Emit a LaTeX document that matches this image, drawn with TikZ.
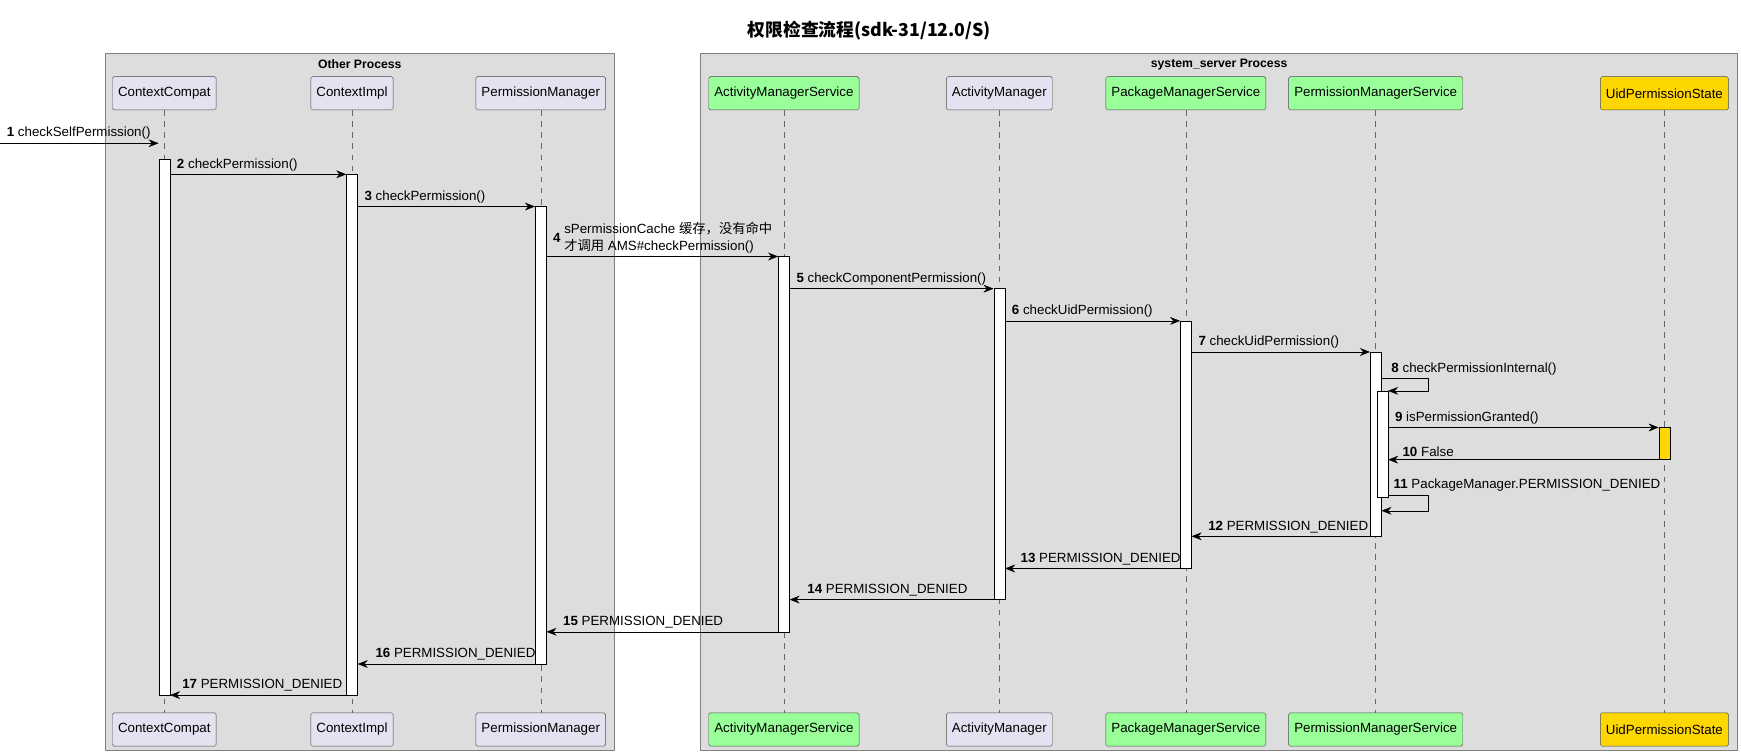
\documentclass[tikz,border=0pt]{standalone}
\usepackage{fontspec}
\setmainfont{Liberation Sans}
\newfontfamily\cjk{Noto Sans CJK SC}
\usetikzlibrary{arrows.meta}
\definecolor{grpfill}{RGB}{221,221,221}
\definecolor{grpline}{RGB}{128,128,128}
\definecolor{partfill}{RGB}{226,226,240}
\definecolor{greenfill}{RGB}{153,255,153}
\definecolor{goldfill}{RGB}{255,215,0}
\tikzset{
  part/.style={draw=black!70,rounded corners=1.5pt,minimum height=30pt,inner xsep=5pt,font=\fontsize{12}{14}\selectfont},
  actbar/.style={draw=black,fill=white,minimum width=10pt,inner sep=0pt},
  msg/.style={-{Stealth[length=9pt,width=7pt]},black},
  lbl/.style={anchor=south west,inner sep=0pt,font=\fontsize{12}{14}\selectfont},
  life/.style={dashed,black!60,dash pattern=on 5pt off 5pt}
}
\newcommand{\msgno}[1]{\textbf{#1}~}
\begin{document}
\begin{tikzpicture}[x=1pt,y=1pt,yscale=-1]
\useasboundingbox (0,0) rectangle (1568,680);
\fill[white] (0,0) rectangle (1568,680);

% title
\node (title) at (783,28) {\fontsize{16}{18}\selectfont\bfseries\cjk 权限检查流程(sdk-31/12.0/S)};

% groups
\draw[grpline,fill=grpfill] (95,48) rectangle (553,676);
\draw[grpline,fill=grpfill] (631,48) rectangle (1565,676);
\node[font=\fontsize{11}{13}\selectfont\bfseries] (grpA) at (324,58) {Other Process};
\node[font=\fontsize{11}{13}\selectfont\bfseries] (grpB) at (1098,58) {system\_server Process};

% participants
\foreach \n/\x/\c/\t in {cc/148/partfill/ContextCompat,ci/317/partfill/ContextImpl,pm/487/partfill/PermissionManager,
  ams/706/greenfill/ActivityManagerService,am/900/partfill/ActivityManager,pkms/1068/greenfill/PackageManagerService,
  pms/1239/greenfill/PermissionManagerService,ups/1499/goldfill/UidPermissionState}{
  \node[part,fill=\c] (\n top) at (\x,84) {\t};
  \node[part,fill=\c] (\n bot) at (\x,657) {\t};
  \draw[life] (\n top.south) -- (\n bot.north);
}

% activations
\node[actbar,minimum height=483pt] (acc) at (148,384.5) {};
\node[actbar,minimum height=469pt] (aci) at (317,391.5) {};
\node[actbar,minimum height=412pt] (apm) at (487,392) {};
\node[actbar,minimum height=338pt] (aams) at (706,400) {};
\node[actbar,minimum height=280pt] (aam) at (900,400) {};
\node[actbar,minimum height=223pt] (apkms) at (1068,400.5) {};
\node[actbar,minimum height=166pt] (apms) at (1239,400) {};
\node[actbar,minimum height=96pt] (apms2) at (1245,400) {};
\node[actbar,fill=goldfill,minimum height=29pt] (aups) at (1499,399.5) {};

% messages
\coordinate (start) at (0,129);
\draw[msg] (start) -- (acc.north west |- 0,129) node[lbl,pos=0,xshift=6pt,yshift=3pt] {\msgno{1}checkSelfPermission()};
\draw[msg] (acc.east |- 0,157) -- (aci.west |- 0,157) node[lbl,pos=0,xshift=6pt,yshift=3pt] {\msgno{2}checkPermission()};
\draw[msg] (aci.east |- 0,186) -- (apm.west |- 0,186) node[lbl,pos=0,xshift=6pt,yshift=3pt] {\msgno{3}checkPermission()};
\draw[msg] (apm.east |- 0,231) -- (aams.west |- 0,231);
\node[anchor=west,inner sep=0pt,font=\fontsize{12}{14}\selectfont\bfseries] (n4) at (498,214) {4};
\node[anchor=west,align=left,inner sep=0pt,font=\fontsize{12}{16}\selectfont] (l4) at (508,214) {sPermissionCache {\cjk 缓存，没有命中}\\{\cjk 才调用} AMS\#checkPermission()};
\draw[msg] (aams.east |- 0,260) -- (aam.west |- 0,260) node[lbl,pos=0,xshift=6pt,yshift=3pt] {\msgno{5}checkComponentPermission()};
\draw[msg] (aam.east |- 0,289) -- (apkms.west |- 0,289) node[lbl,pos=0,xshift=6pt,yshift=3pt] {\msgno{6}checkUidPermission()};
\draw[msg] (apkms.east |- 0,317) -- (apms.west |- 0,317) node[lbl,pos=0,xshift=6pt,yshift=3pt] {\msgno{7}checkUidPermission()};
\draw[msg] (apms.east |- 0,341) -- (1286,341) -- (1286,352) -- (apms2.east |- 0,352);
\node[lbl] (l8) at (1253,338) {\msgno{8}checkPermissionInternal()};
\draw[msg] (apms2.east |- 0,385) -- (aups.west |- 0,385) node[lbl,pos=0,xshift=6pt,yshift=3pt] {\msgno{9}isPermissionGranted()};
\draw[msg] (aups.west |- 0,414) -- (apms2.east |- 0,414);
\node[lbl] (l10) at (1263,411) {\msgno{10}False};
\draw[msg] (apms2.east |- 0,446) -- (1286,446) -- (1286,460) -- (apms.east |- 0,460);
\node[lbl] (l11) at (1255,443) {\msgno{11}PackageManager.PERMISSION\_DENIED};
\draw[msg] (apms.west |- 0,483) -- (apkms.east |- 0,483);
\node[lbl] (l12) at (1088,480) {\msgno{12}PERMISSION\_DENIED};
\draw[msg] (apkms.west |- 0,512) -- (aam.east |- 0,512);
\node[lbl] (l13) at (919,509) {\msgno{13}PERMISSION\_DENIED};
\draw[msg] (aam.west |- 0,540) -- (aams.east |- 0,540);
\node[lbl] (l14) at (727,537) {\msgno{14}PERMISSION\_DENIED};
\draw[msg] (aams.west |- 0,569) -- (apm.east |- 0,569);
\node[lbl] (l15) at (507,566) {\msgno{15}PERMISSION\_DENIED};
\draw[msg] (apm.west |- 0,598) -- (aci.east |- 0,598);
\node[lbl] (l16) at (338,595) {\msgno{16}PERMISSION\_DENIED};
\draw[msg] (aci.west |- 0,626) -- (acc.east |- 0,626);
\node[lbl] (l17) at (164,623) {\msgno{17}PERMISSION\_DENIED};
\end{tikzpicture}
\end{document}
